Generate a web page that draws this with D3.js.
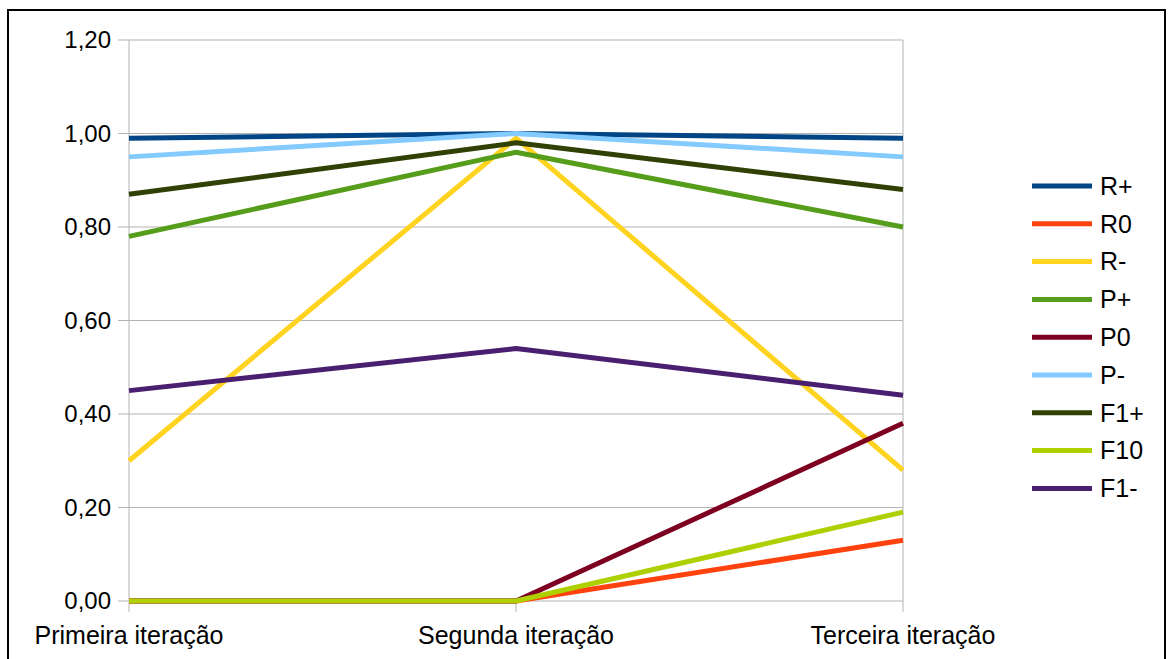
<!DOCTYPE html>
<html><head><meta charset="utf-8">
<script src="https://cdn.jsdelivr.net/npm/d3@7"></script>
<style>body{margin:0;background:#fff}svg{display:block}text{font-family:"Liberation Sans",Arial,sans-serif}</style>
</head><body>
<svg id="c" width="1171" height="659"></svg>
<script>
const categories = ["Primeira iteração","Segunda iteração","Terceira iteração"];
const seriesNames = ["R+","R0","R-","P+","P0","P-","F1+","F10","F1-"];
const seriesColors = ["#004586","#ff420e","#ffd320","#579d1c","#7e0021","#83caff","#314004","#aecf00","#4b1f6f"];
const valR_plus = [0.99,1.00,0.99];
const valR_0 = [0,0,0.13];
const valR_minus = [0.30,0.99,0.28];
const valP_plus = [0.78,0.96,0.80];
const valP_0 = [0,0,0.38];
const valP_minus = [0.95,1.00,0.95];
const valF1_plus = [0.87,0.98,0.88];
const valF1_0 = [0,0,0.19];
const valF1_minus = [0.45,0.54,0.44];
const yTicks = [0,0.2,0.4,0.6,0.8,1.0,1.2];

const allValues = [valR_plus,valR_0,valR_minus,valP_plus,valP_0,valP_minus,valF1_plus,valF1_0,valF1_minus];
const series = seriesNames.map((n,i)=>({name:n,color:seriesColors[i],values:allValues[i]}));

const svg = d3.select("#c");
svg.append("rect").attr("x",8).attr("y",10).attr("width",1157).attr("height",660)
  .attr("fill","none").attr("stroke","#000").attr("stroke-width",2);

const L=129,R=903,T=40,B=601;
const x = d3.scalePoint().domain(categories).range([L,R]);
const y = d3.scaleLinear().domain([0,1.2]).range([B,T]);
const fmt = v => d3.format(".2f")(v).replace(".",",");

// horizontal grid
svg.append("g").selectAll("line").data(yTicks).join("line")
  .attr("x1",L-11).attr("x2",R).attr("y1",d=>y(d)).attr("y2",d=>y(d))
  .attr("stroke","#b3b3b3").attr("stroke-width",1);
// plot borders left/right
svg.append("g").selectAll("line").data([categories[0],categories[2]]).join("line")
  .attr("x1",d=>x(d)).attr("x2",d=>x(d)).attr("y1",T).attr("y2",B)
  .attr("stroke","#b3b3b3").attr("stroke-width",1);
// bottom ticks
svg.append("g").selectAll("line").data(categories).join("line")
  .attr("x1",d=>x(d)).attr("x2",d=>x(d)).attr("y1",B).attr("y2",B+11)
  .attr("stroke","#b3b3b3").attr("stroke-width",1);

svg.append("g").selectAll("text").data(yTicks).join("text")
  .attr("x",111).attr("y",d=>y(d)).attr("dy","0.35em").attr("text-anchor","end")
  .attr("font-size",24).text(fmt);
svg.append("g").selectAll("text").data(categories).join("text")
  .attr("x",d=>x(d)).attr("y",644).attr("text-anchor","middle")
  .attr("font-size",25).text(d=>d);

const line = d3.line().x((d,i)=>x(categories[i])).y(d=>y(d));
svg.append("g").selectAll("path").data(series).join("path")
  .attr("d",d=>line(d.values)).attr("fill","none").attr("stroke",d=>d.color)
  .attr("stroke-width",5).attr("stroke-linejoin","round");

const lg = svg.append("g").selectAll("g").data(series).join("g")
  .attr("transform",(d,i)=>`translate(1032,${186+i*37.8})`);
lg.append("line").attr("x1",0).attr("x2",60).attr("stroke",d=>d.color).attr("stroke-width",5);
lg.append("text").attr("x",68).attr("dy","0.35em").attr("font-size",25).text(d=>d.name);
</script>
</body></html>
